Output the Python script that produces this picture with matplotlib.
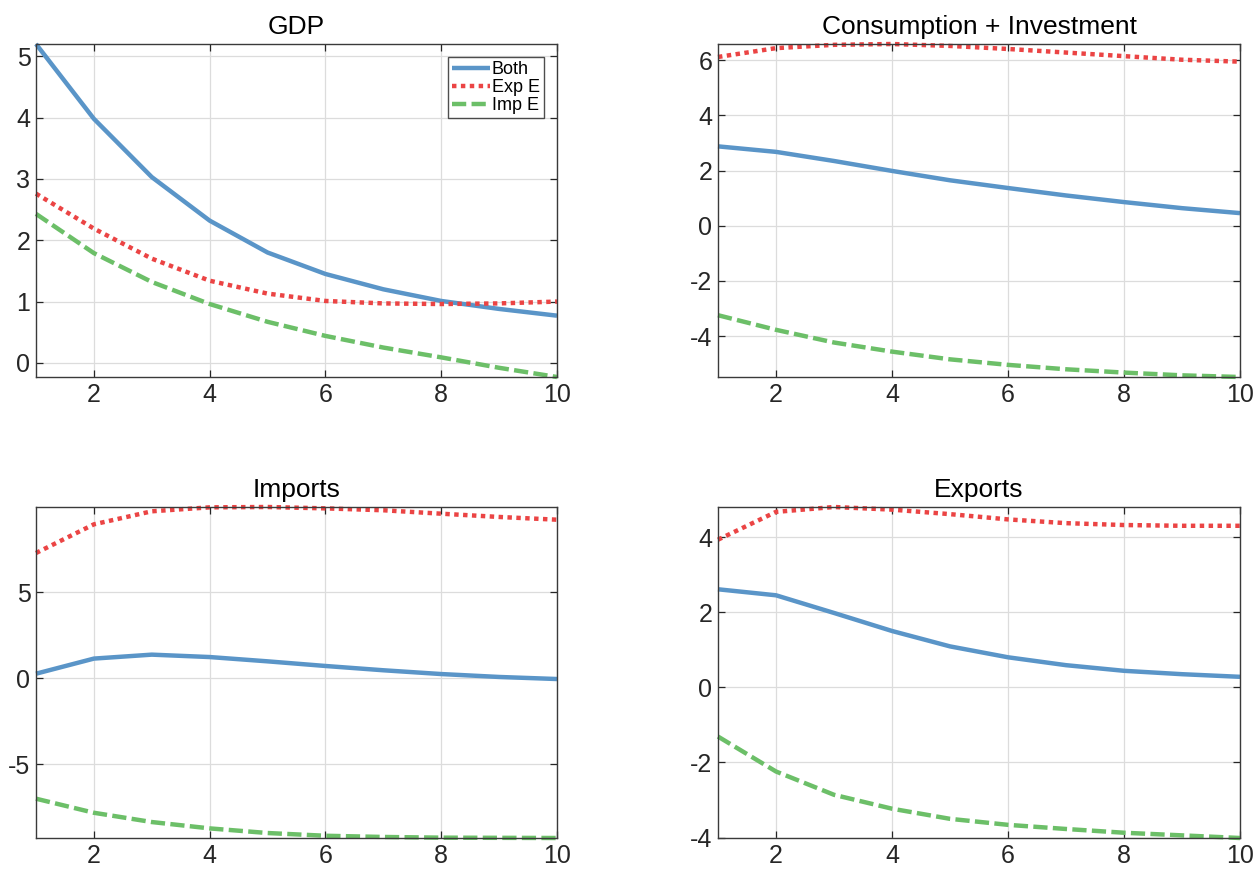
import matplotlib
matplotlib.use("Agg")
import matplotlib.pyplot as plt

plt.rcParams['font.family'] = ['Liberation Sans', 'DejaVu Sans']

periods = [1, 2, 3, 4, 5, 6, 7, 8, 9, 10]
series_names = ["Both", "Exp E", "Imp E"]
panel_titles = ["GDP", "Consumption + Investment", "Imports", "Exports"]

gdp_both = [5.20, 3.98, 3.03, 2.32, 1.80, 1.45, 1.20, 1.01, 0.88, 0.77]
gdp_exp = [2.76, 2.19, 1.70, 1.34, 1.13, 1.01, 0.97, 0.96, 0.97, 1.00]
gdp_imp = [2.43, 1.79, 1.32, 0.96, 0.67, 0.44, 0.25, 0.09, -0.08, -0.23]

ci_both = [2.88, 2.68, 2.35, 1.99, 1.65, 1.37, 1.10, 0.86, 0.64, 0.46]
ci_exp = [6.12, 6.44, 6.56, 6.59, 6.52, 6.41, 6.28, 6.15, 6.02, 5.95]
ci_imp = [-3.24, -3.77, -4.23, -4.56, -4.84, -5.04, -5.20, -5.32, -5.42, -5.48]

imp_both = [0.27, 1.15, 1.38, 1.24, 0.99, 0.72, 0.47, 0.25, 0.08, -0.04]
imp_exp = [7.30, 8.97, 9.73, 9.96, 9.98, 9.90, 9.79, 9.59, 9.40, 9.24]
imp_imp = [-7.01, -7.83, -8.37, -8.74, -9.01, -9.17, -9.24, -9.28, -9.29, -9.30]

exp_both = [2.61, 2.45, 1.98, 1.50, 1.09, 0.80, 0.59, 0.44, 0.35, 0.28]
exp_exp = [3.93, 4.67, 4.80, 4.73, 4.61, 4.47, 4.37, 4.32, 4.30, 4.30]
exp_imp = [-1.31, -2.24, -2.86, -3.23, -3.50, -3.66, -3.77, -3.87, -3.94, -4.01]

panels = [
  (gdp_both, gdp_exp, gdp_imp, [0, 1, 2, 3, 4, 5]),
  (ci_both, ci_exp, ci_imp, [-4, -2, 0, 2, 4, 6]),
  (imp_both, imp_exp, imp_imp, [-5, 0, 5]),
  (exp_both, exp_exp, exp_imp, [-4, -2, 0, 2, 4]),
]

colors = ["#5A95C8", "#EB4444", "#6CBF68"]
styles = ["-", (0, (1, 1)), (0, (3.2, 1.2))]

W, H = 1259.0, 877.0
boxes = [
  (36, 44, 557, 377),
  (718, 44, 1240, 377),
  (36, 507, 557, 838),
  (718, 507, 1240, 838),
]

fig = plt.figure(figsize=(12.59, 8.77), dpi=100)

for k in range(4):
  x0, y0, x1, y1 = boxes[k]
  ax = fig.add_axes([x0 / W, 1 - y1 / H, (x1 - x0) / W, (y1 - y0) / H])
  both, expe, impe, yticks = panels[k]
  for vals, c, ls, name in zip([both, expe, impe], colors, styles, series_names):
    ax.plot(periods, vals, color=c, linestyle=ls, linewidth=3.2,
            dash_capstyle='butt', solid_capstyle='butt', label=name, clip_on=False)
  allv = both + expe + impe
  ax.set_xlim(1, 10)
  ax.set_ylim(min(allv), max(allv))
  ax.set_xticks([2, 4, 6, 8, 10])
  ax.set_yticks(yticks)
  ax.set_yticklabels([str(t) for t in yticks])
  ax.grid(True, color="#dcdcdc", linewidth=0.9)
  ax.set_axisbelow(True)
  ax.tick_params(direction='in', top=True, right=True, length=5, width=0.9,
                 labelsize=18, colors="#262626", pad=4)
  for sp in ax.spines.values():
    sp.set_color("#3a3a3a")
    sp.set_linewidth(1.0)
  ax.set_title(panel_titles[k], fontsize=19, pad=7.5)
  if k == 0:
    leg = ax.legend(loc='upper right', fontsize=13, frameon=True, fancybox=False,
                    edgecolor="#222222", handlelength=2.1, handletextpad=0.1,
                    borderpad=0.25, labelspacing=0.05, borderaxespad=0.7)
    leg.get_frame().set_linewidth(1.0)

fig.savefig("out.png", dpi=100)
